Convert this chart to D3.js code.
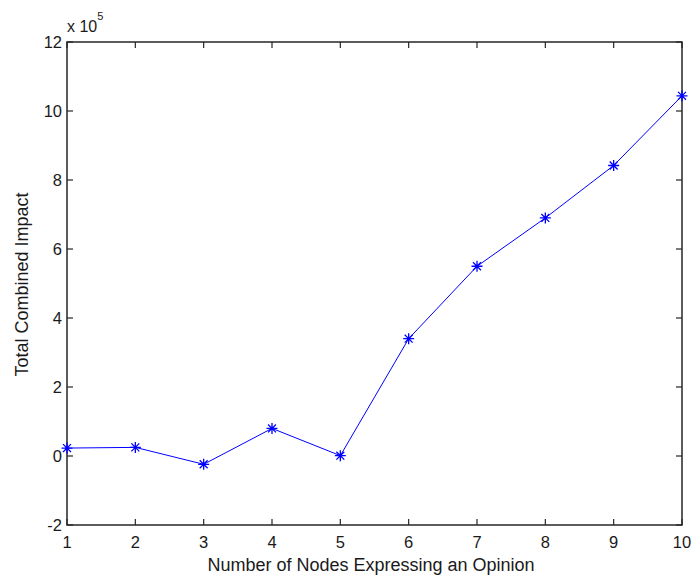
<!DOCTYPE html>
<html>
<head>
<meta charset="utf-8">
<script src="https://cdn.jsdelivr.net/npm/d3@7"></script>
<style>
  html, body { margin: 0; padding: 0; background: #fff; }
  svg { display: block; font-family: "Liberation Sans", Arial, sans-serif; }
</style>
</head>
<body>
<svg id="chart" width="693" height="577"></svg>
<script>
// Number of nodes expressing an opinion
const nodes = [1, 2, 3, 4, 5, 6, 7, 8, 9, 10];
// Total combined impact, in units of 1e5
const impact = [0.23, 0.25, -0.24, 0.80, 0.01, 3.40, 5.50, 6.90, 8.42, 10.44];
const xTicks = [1, 2, 3, 4, 5, 6, 7, 8, 9, 10];
const yTicks = [-2, 0, 2, 4, 6, 8, 10, 12];

const svg = d3.select("#chart");
const plotLeft = 67, plotRight = 682, plotTop = 42, plotBottom = 525;

const x = d3.scaleLinear().domain([1, 10]).range([plotLeft, plotRight]);
const y = d3.scaleLinear().domain([-2, 12]).range([plotBottom, plotTop]);

const axisColor = "#262626";
const textColor = "#1a1a1a";
const tickLen = 6;
const tickFont = 16.5, labelFont = 18;

// box
svg.append("rect")
  .attr("x", plotLeft).attr("y", plotTop)
  .attr("width", plotRight - plotLeft).attr("height", plotBottom - plotTop)
  .attr("fill", "none").attr("stroke", axisColor).attr("stroke-width", 1.5);

// inward ticks on all four sides
const tickG = svg.append("g").attr("stroke", axisColor).attr("stroke-width", 1.2);
xTicks.forEach(t => {
  tickG.append("line").attr("x1", x(t)).attr("x2", x(t)).attr("y1", plotBottom).attr("y2", plotBottom - tickLen);
  tickG.append("line").attr("x1", x(t)).attr("x2", x(t)).attr("y1", plotTop).attr("y2", plotTop + tickLen);
});
yTicks.forEach(t => {
  tickG.append("line").attr("x1", plotLeft).attr("x2", plotLeft + tickLen).attr("y1", y(t)).attr("y2", y(t));
  tickG.append("line").attr("x1", plotRight).attr("x2", plotRight - tickLen).attr("y1", y(t)).attr("y2", y(t));
});

// tick labels
svg.append("g").selectAll("text").data(xTicks).join("text")
  .attr("x", d => x(d)).attr("y", plotBottom + 23)
  .attr("text-anchor", "middle").attr("font-size", tickFont).attr("fill", textColor)
  .text(d => d);
svg.append("g").selectAll("text").data(yTicks).join("text")
  .attr("x", plotLeft - 5).attr("y", d => y(d)).attr("dy", "0.36em")
  .attr("text-anchor", "end").attr("font-size", tickFont).attr("fill", textColor)
  .text(d => d);

// exponent label
const expo = svg.append("text").attr("x", plotLeft).attr("y", 32)
  .attr("font-size", 16).attr("fill", textColor);
expo.append("tspan").text("x 10");
expo.append("tspan").attr("dy", -12).attr("font-size", 11).text("5");

// axis titles
svg.append("text")
  .attr("x", 371).attr("y", 571)
  .attr("text-anchor", "middle").attr("font-size", labelFont).attr("fill", textColor)
  .text("Number of Nodes Expressing an Opinion");
svg.append("text")
  .attr("transform", `translate(28, 284.5) rotate(-90)`)
  .attr("text-anchor", "middle").attr("font-size", labelFont).attr("fill", textColor)
  .text("Total Combined Impact");

// data line
const pts = nodes.map((n, i) => [n, impact[i]]);
const blue = "#0000ff";
svg.append("path")
  .datum(pts)
  .attr("fill", "none").attr("stroke", blue).attr("stroke-width", 1)
  .attr("d", d3.line().x(d => x(d[0])).y(d => y(d[1])));

// asterisk markers
const r = 5.5, rd = r * 0.72;
const marks = svg.append("g").attr("stroke", blue).attr("stroke-width", 1.3);
pts.forEach(d => {
  const cx = x(d[0]), cy = y(d[1]);
  marks.append("path").attr("d",
    `M${cx - r},${cy}L${cx + r},${cy}` +
    `M${cx},${cy - r}L${cx},${cy + r}` +
    `M${cx - rd},${cy - rd}L${cx + rd},${cy + rd}` +
    `M${cx - rd},${cy + rd}L${cx + rd},${cy - rd}`);
});
</script>
</body>
</html>
